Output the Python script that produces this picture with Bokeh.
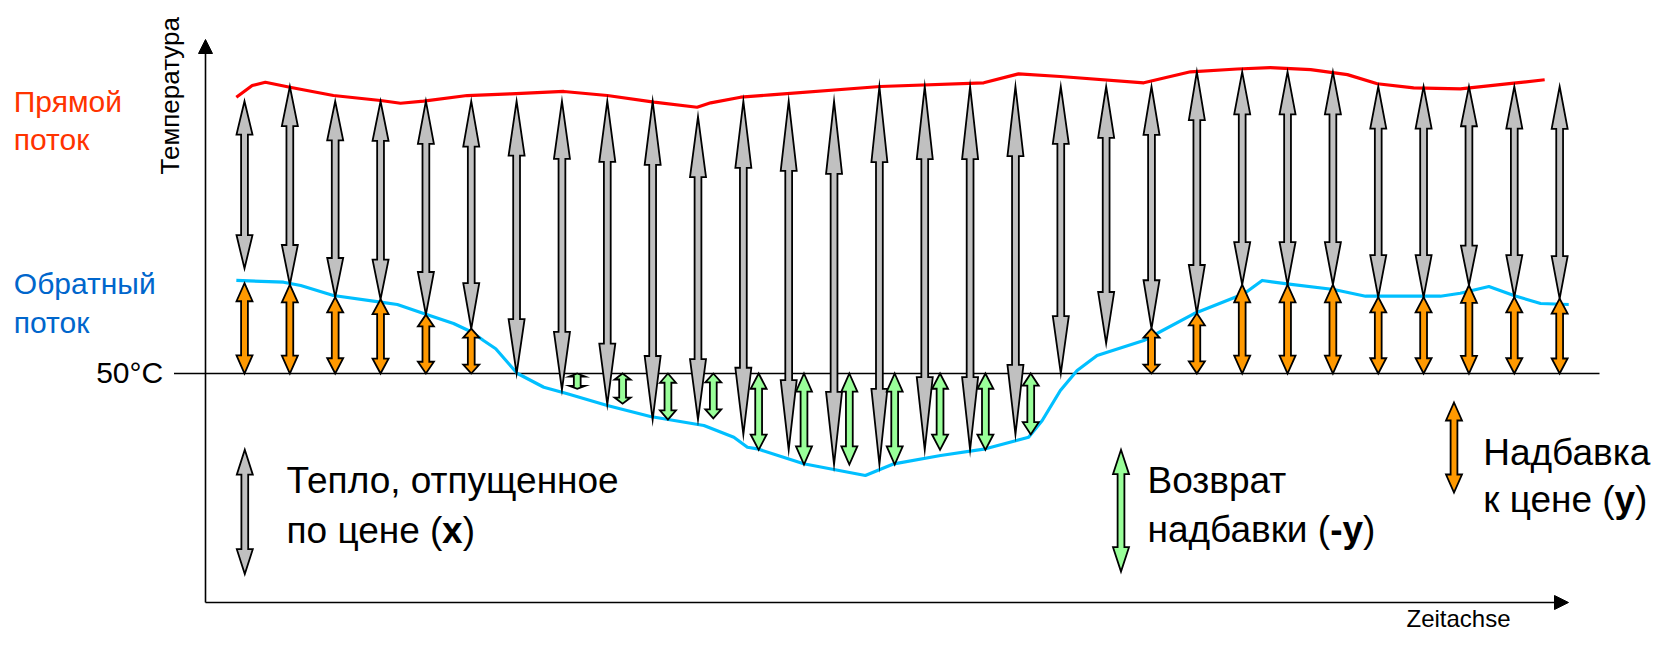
from math import pi
from bokeh.plotting import figure
from bokeh.models import Range1d, Arrow, NormalHead
from bokeh.core.properties import value
from bokeh.embed import file_html
from bokeh.resources import INLINE

# ---------------- data (time index, temperature in deg C) ----------------
time_idx = list(range(30))
# gray "heat sold at price" arrows: top (supply side) and bottom (return side)
heat_top = [88.9, 91.0, 88.9, 88.9, 88.9, 88.9, 88.9, 88.9, 88.9, 88.9,
            86.7, 88.9, 88.9, 88.9, 91.0, 91.0, 91.0, 91.0, 91.0, 91.0,
            91.0, 93.1, 93.1, 93.1, 93.1, 91.0, 91.0, 91.0, 91.0, 91.0]
heat_bottom = [65.0, 62.7, 60.9, 60.6, 58.4, 56.4, 50.0, 47.7, 45.6, 43.4,
               43.4, 41.3, 39.1, 37.0, 37.0, 39.1, 39.1, 41.3, 50.0, 54.3,
               56.4, 58.6, 62.7, 62.7, 62.7, 60.9, 60.9, 62.6, 60.9, 60.7]
# orange "surcharge" arrows: from return temperature down to 50 deg C
premium_idx = [0, 1, 2, 3, 4, 5, 20, 21, 22, 23, 24, 25, 26, 27, 28, 29]
premium_top = [62.9, 62.7, 60.9, 60.6, 58.4, 56.4, 56.4, 58.6, 62.7, 62.7,
               62.7, 60.9, 60.9, 62.6, 60.9, 60.7]
# green "surcharge refund" arrows: from 50 deg C down to return temperature
refund_idx = [7, 8, 9, 10, 11, 12, 13, 14, 15, 16, 17]
refund_bottom = [47.8, 45.7, 43.4, 43.6, 39.1, 37.0, 37.0, 37.0, 39.1, 39.1, 41.3]
# supply (red) line
supply_t = [-0.18, 0.17, 0.46, 1.00, 1.96, 3.00, 3.44, 3.95, 4.91, 5.87, 7.04,
            8.00, 9.03, 9.98, 10.28, 10.94, 11.60, 14.02, 16.30, 17.07, 17.99,
            19.83, 20.86, 21.89, 22.62, 23.51, 24.32, 24.98, 25.78, 26.81,
            27.99, 28.67]
supply_T = [89.47, 91.14, 91.61, 90.90, 89.71, 89.00, 88.61, 88.90, 89.71, 89.96,
            90.29, 89.71, 88.76, 88.04, 88.67, 89.47, 89.81, 91.00, 91.53, 92.81,
            92.43, 91.53, 93.10, 93.50, 93.70, 93.40, 92.70, 91.39, 90.81, 90.67,
            91.47, 91.96]
# return (blue) line
return_t = [-0.18, 0.86, 1.24, 1.96, 3.00, 3.37, 3.95, 4.61, 5.02, 5.27, 5.54,
            6.01, 6.60, 7.12, 8.00, 8.95, 10.13, 10.79, 11.09, 11.31, 12.33,
            13.69, 14.32, 15.35, 16.34, 17.29, 17.59, 17.99, 18.36, 18.80,
            19.83, 20.93, 22.04, 22.44, 22.99, 24.02, 24.72, 26.37, 26.81,
            27.44, 27.99, 28.58, 29.20]
return_T = [63.29, 63.04, 62.57, 61.14, 60.19, 59.86, 58.57, 57.14, 55.90, 54.71,
            53.53, 50.04, 48.04, 47.10, 45.43, 43.86, 42.57, 40.90, 39.47, 39.24,
            37.10, 35.43, 37.10, 38.29, 39.24, 40.90, 43.29, 47.57, 50.43, 52.57,
            54.71, 58.53, 61.39, 63.29, 62.81, 62.00, 61.04, 61.04, 61.47, 62.43,
            61.14, 60.00, 59.86]
ref_temp = 50.0
ref_label = "50°C"

# ---------------- layout ----------------
W, H = 1651, 638
PX_T0 = 244.0        # frame pixel of time index 0
PX_PER_T = 45.35
PY_REF = 373.0       # frame pixel of 50 deg C
PX_PER_DEG = 7.0


def X(px):
    return (px - PX_T0) / PX_PER_T


def Y(py):
    return ref_temp + (PY_REF - py) / PX_PER_DEG


p = figure(width=W, height=H, output_backend="svg", toolbar_location=None,
           x_range=Range1d(-PX_T0 / PX_PER_T, (W - PX_T0) / PX_PER_T),
           y_range=Range1d(ref_temp - (H - PY_REF) / PX_PER_DEG,
                           ref_temp + PY_REF / PX_PER_DEG),
           x_axis_type=None, y_axis_type=None, min_border=0,
           min_border_left=0, min_border_right=0, min_border_top=0,
           min_border_bottom=0)
p.grid.visible = False
p.outline_line_color = None
p.background_fill_color = "white"
p.border_fill_color = "white"

HEAD_HW = 8.0 / PX_PER_T
SHAFT_HW = 3.4 / PX_PER_T


def double_arrow(xc, top, bot):
    h = 0.2 * (top - bot)
    xs = [xc, xc + HEAD_HW, xc + SHAFT_HW, xc + SHAFT_HW, xc + HEAD_HW, xc,
          xc - HEAD_HW, xc - SHAFT_HW, xc - SHAFT_HW, xc - HEAD_HW]
    ys = [top, top - h, top - h, bot + h, bot + h, bot, bot + h, bot + h,
          top - h, top - h]
    return xs, ys


# reference line 50 C
p.line([X(173.5), X(1599)], [ref_temp, ref_temp], line_color="black", line_width=1.6)

# supply / return lines
p.line(supply_t, supply_T, line_color="#FF0000", line_width=3.2, line_join="round")
p.line(return_t, return_T, line_color="#00BFFF", line_width=3.2, line_join="round")

OUT = dict(line_color="black", line_width=1.8, line_join="miter")

gx, gy = [], []
for t, a, b in zip(time_idx, heat_top, heat_bottom):
    xs, ys = double_arrow(t, a, b)
    gx.append(xs)
    gy.append(ys)
p.patches(gx, gy, fill_color="#C0C0C0", **OUT)

ox, oy = [], []
for t, a in zip(premium_idx, premium_top):
    xs, ys = double_arrow(t, a, ref_temp)
    ox.append(xs)
    oy.append(ys)
p.patches(ox, oy, fill_color="#FF9900", **OUT)

GREEN_OFF = 15.3 / PX_PER_T
rx, ry = [], []
for t, b in zip(refund_idx, refund_bottom):
    xs, ys = double_arrow(t + GREEN_OFF, ref_temp, b)
    rx.append(xs)
    ry.append(ys)
p.patches(rx, ry, fill_color="#99FF99", **OUT)

# legend arrows
lx, ly = double_arrow(X(244.3), Y(449.3), Y(573.5))
p.patch(lx, ly, fill_color="#C0C0C0", **OUT)
lx, ly = double_arrow(X(1120.5), Y(449.3), Y(571.0))
p.patch(lx, ly, fill_color="#99FF99", **OUT)
lx, ly = double_arrow(X(1453.5), Y(402.0), Y(492.0))
p.patch(lx, ly, fill_color="#FF9900", **OUT)

# axes with arrow heads
head = dict(size=14, fill_color="black", line_color="black", line_width=1)
p.add_layout(Arrow(end=NormalHead(**head), x_start=X(205), y_start=Y(602),
                   x_end=X(205), y_end=Y(39), line_width=1.6, line_color="black"))
p.add_layout(Arrow(end=NormalHead(**head), x_start=X(205), y_start=Y(602),
                   x_end=X(1568), y_end=Y(602), line_width=1.6, line_color="black"))

FONT = value("Liberation Sans")


def txt(px, py, s, size, color="black", align="left", bold=False, angle=0.0):
    p.text(x=[X(px)], y=[Y(py)], text=[s], text_font=FONT, text_font_size=size,
           text_color=color, text_align=align, text_baseline="alphabetic",
           text_font_style="bold" if bold else "normal", angle=angle)


txt(13.3, 100.7, "Прямой", "30px", "#FF3300")
txt(13.3, 139.0, "поток", "30px", "#FF3300")
txt(13.3, 283.3, "Обратный", "30px", "#0066CC")
txt(13.3, 321.7, "поток", "30px", "#0066CC")
txt(169.0, 174.0, "Температура", "26px", angle=pi / 2)
txt(162.7, 372.0, ref_label, "30px", align="right")
txt(1406.0, 618.0, "Zeitachse", "24px")

L1 = 286.0
txt(L1, 479.5, "Тепло, отпущенное", "37px")
txt(L1, 529.5, "по цене (", "37px")
txt(L1 + 155.6, 529.5, "x", "37px", bold=True)
txt(L1 + 176.2, 529.5, ")", "37px")

L2 = 1147.0
txt(L2, 479.5, "Возврат", "37px")
txt(L2, 528.5, "надбавки (", "37px")
txt(L2 + 182.7, 528.5, "-y", "37px", bold=True)
txt(L2 + 215.6, 528.5, ")", "37px")

L3 = 1482.7
txt(L3, 451.7, "Надбавка", "37px")
txt(L3, 499.0, "к цене (", "37px")
txt(L3 + 131.3, 499.0, "y", "37px", bold=True)
txt(L3 + 151.9, 499.0, ")", "37px")

open("out.html", "w").write(file_html(p, INLINE))
